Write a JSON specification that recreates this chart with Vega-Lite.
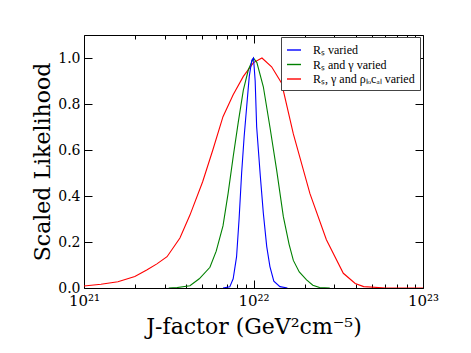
{
  "$schema": "https://vega.github.io/schema/vega-lite/v6.json",
  "width": 339,
  "height": 253,
  "autosize": "none",
  "padding": {"left": 84, "top": 35, "right": 48, "bottom": 65},
  "background": "white",
  "config": {
    "view": {"stroke": "black", "strokeWidth": 1},
    "font": "DejaVu Serif",
    "axis": {"grid": false, "domain": false, "labelFont": "DejaVu Serif", "titleFont": "DejaVu Serif", "labelColor": "black", "titleColor": "black", "tickColor": "black", "titleFontWeight": "normal"}
  },
  "data": {"values": [
    {"J": 1.0e21, "L": 0.009, "s": "R3"}, {"J": 1.259e21, "L": 0.016, "s": "R3"}, {"J": 1.585e21, "L": 0.027, "s": "R3"},
    {"J": 1.995e21, "L": 0.05, "s": "R3"}, {"J": 2.344e21, "L": 0.078, "s": "R3"}, {"J": 2.692e21, "L": 0.105, "s": "R3"},
    {"J": 3.090e21, "L": 0.136, "s": "R3"}, {"J": 3.681e21, "L": 0.217, "s": "R3"}, {"J": 4.217e21, "L": 0.317, "s": "R3"},
    {"J": 5.012e21, "L": 0.462, "s": "R3"}, {"J": 5.754e21, "L": 0.6, "s": "R3"}, {"J": 6.607e21, "L": 0.745, "s": "R3"},
    {"J": 7.586e21, "L": 0.84, "s": "R3"}, {"J": 8.710e21, "L": 0.92, "s": "R3"}, {"J": 1.0e22, "L": 0.98, "s": "R3"},
    {"J": 1.122e22, "L": 1.0, "s": "R3"}, {"J": 1.279e22, "L": 0.962, "s": "R3"}, {"J": 1.466e22, "L": 0.89, "s": "R3"},
    {"J": 1.718e22, "L": 0.67, "s": "R3"}, {"J": 2.153e22, "L": 0.41, "s": "R3"}, {"J": 2.692e22, "L": 0.21, "s": "R3"},
    {"J": 3.388e22, "L": 0.064, "s": "R3"}, {"J": 3.981e22, "L": 0.02, "s": "R3"}, {"J": 4.467e22, "L": 0.006, "s": "R3"},
    {"J": 6.026e22, "L": 0.0, "s": "R3"}, {"J": 1.0e23, "L": 0.0, "s": "R3"},

    {"J": 3.162e21, "L": 0.0, "s": "R2"}, {"J": 3.548e21, "L": 0.002, "s": "R2"}, {"J": 4.217e21, "L": 0.01, "s": "R2"},
    {"J": 4.786e21, "L": 0.04, "s": "R2"}, {"J": 5.534e21, "L": 0.09, "s": "R2"}, {"J": 6.026e21, "L": 0.16, "s": "R2"},
    {"J": 6.607e21, "L": 0.27, "s": "R2"}, {"J": 7.079e21, "L": 0.41, "s": "R2"}, {"J": 7.586e21, "L": 0.57, "s": "R2"},
    {"J": 8.128e21, "L": 0.72, "s": "R2"}, {"J": 8.710e21, "L": 0.86, "s": "R2"}, {"J": 9.333e21, "L": 0.95, "s": "R2"},
    {"J": 1.0e22, "L": 1.0, "s": "R2"}, {"J": 1.047e22, "L": 0.98, "s": "R2"}, {"J": 1.143e22, "L": 0.875, "s": "R2"},
    {"J": 1.250e22, "L": 0.70, "s": "R2"}, {"J": 1.371e22, "L": 0.51, "s": "R2"}, {"J": 1.500e22, "L": 0.31, "s": "R2"},
    {"J": 1.622e22, "L": 0.19, "s": "R2"}, {"J": 1.718e22, "L": 0.12, "s": "R2"}, {"J": 1.862e22, "L": 0.07, "s": "R2"},
    {"J": 2.056e22, "L": 0.035, "s": "R2"}, {"J": 2.239e22, "L": 0.012, "s": "R2"}, {"J": 2.455e22, "L": 0.002, "s": "R2"},
    {"J": 2.818e22, "L": 0.0, "s": "R2"},

    {"J": 6.607e21, "L": 0.0, "s": "R1"}, {"J": 7.244e21, "L": 0.005, "s": "R1"}, {"J": 7.586e21, "L": 0.04, "s": "R1"},
    {"J": 7.943e21, "L": 0.135, "s": "R1"}, {"J": 8.222e21, "L": 0.3, "s": "R1"}, {"J": 8.511e21, "L": 0.5, "s": "R1"},
    {"J": 8.810e21, "L": 0.66, "s": "R1"}, {"J": 9.120e21, "L": 0.79, "s": "R1"}, {"J": 9.441e21, "L": 0.92, "s": "R1"},
    {"J": 9.772e21, "L": 0.99, "s": "R1"}, {"J": 1.0e22, "L": 1.0, "s": "R1"}, {"J": 1.023e22, "L": 0.9, "s": "R1"},
    {"J": 1.044e22, "L": 0.70, "s": "R1"}, {"J": 1.096e22, "L": 0.49, "s": "R1"}, {"J": 1.143e22, "L": 0.325, "s": "R1"},
    {"J": 1.197e22, "L": 0.18, "s": "R1"}, {"J": 1.250e22, "L": 0.093, "s": "R1"}, {"J": 1.318e22, "L": 0.03, "s": "R1"},
    {"J": 1.432e22, "L": 0.006, "s": "R1"}, {"J": 1.585e22, "L": 0.0, "s": "R1"}
  ]},
  "resolve": {"axis": {"x": "independent", "y": "independent"}},
  "layer": [
    {
      "mark": {"type": "line", "strokeWidth": 1.1, "clip": true},
      "encoding": {
        "x": {"field": "J", "type": "quantitative",
          "scale": {"type": "log", "domain": [1e21, 1e23], "nice": false},
          "axis": {"orient": "bottom", "title": "J-factor (GeV²cm⁻⁵)", "titleFontSize": 22, "titlePadding": 4,
            "values": [1e21, 2e21, 3e21, 4e21, 5e21, 6e21, 7e21, 8e21, 9e21, 1e22, 2e22, 3e22, 4e22, 5e22, 6e22, 7e22, 8e22, 9e22, 1e23],
            "labelExpr": "datum.value == 1e21 ? '10²¹' : datum.value == 1e22 ? '10²²' : datum.value == 1e23 ? '10²³' : ''",
            "labelFontSize": 15, "labelPadding": 13, "labelOverlap": false, "labelFlush": false,
            "tickSize": {"condition": {"test": "datum.value == 1e21 || datum.value == 1e22 || datum.value == 1e23", "value": -8}, "value": -4}}},
        "y": {"field": "L", "type": "quantitative",
          "scale": {"domain": [0, 1.1], "nice": false},
          "axis": {"orient": "left", "title": "Scaled Likelihood", "titleFontSize": 22, "titlePadding": 3,
            "values": [0, 0.2, 0.4, 0.6, 0.8, 1.0], "format": ".1f", "labelFontSize": 14, "labelPadding": 12,
            "tickSize": -8, "labelFlush": false}},
        "color": {"field": "s", "type": "nominal",
          "scale": {"domain": ["R1", "R2", "R3"], "range": ["#0000ff", "#008000", "#ff0000"]},
          "legend": {"orient": "none", "legendX": 197, "legendY": 2, "title": null,
            "labelExpr": "datum.value == 'R1' ? 'Rₛ varied' : datum.value == 'R2' ? 'Rₛ and γ varied' : 'Rₛ, γ and ρₗₒcₐₗ varied'",
            "symbolType": "stroke", "symbolSize": 196, "symbolStrokeWidth": 1.4,
            "labelFont": "Liberation Serif", "labelFontSize": 12, "labelColor": "black",
            "strokeColor": "#444444", "fillColor": "white", "padding": 5, "rowPadding": 0.5, "labelOffset": 11}}
      }
    },
    {
      "mark": {"type": "point", "opacity": 0},
      "encoding": {
        "x": {"field": "J", "type": "quantitative",
          "scale": {"type": "log", "domain": [1e21, 1e23], "nice": false},
          "axis": {"orient": "top", "title": null, "labels": false,
            "values": [1e21, 2e21, 3e21, 4e21, 5e21, 6e21, 7e21, 8e21, 9e21, 1e22, 2e22, 3e22, 4e22, 5e22, 6e22, 7e22, 8e22, 9e22, 1e23],
            "tickSize": {"condition": {"test": "datum.value == 1e21 || datum.value == 1e22 || datum.value == 1e23", "value": -8}, "value": -4}}},
        "y": {"field": "L", "type": "quantitative",
          "scale": {"domain": [0, 1.1], "nice": false},
          "axis": {"orient": "right", "title": null, "labels": false, "values": [0, 0.2, 0.4, 0.6, 0.8, 1.0], "tickSize": -8}}
      }
    }
  ]
}
